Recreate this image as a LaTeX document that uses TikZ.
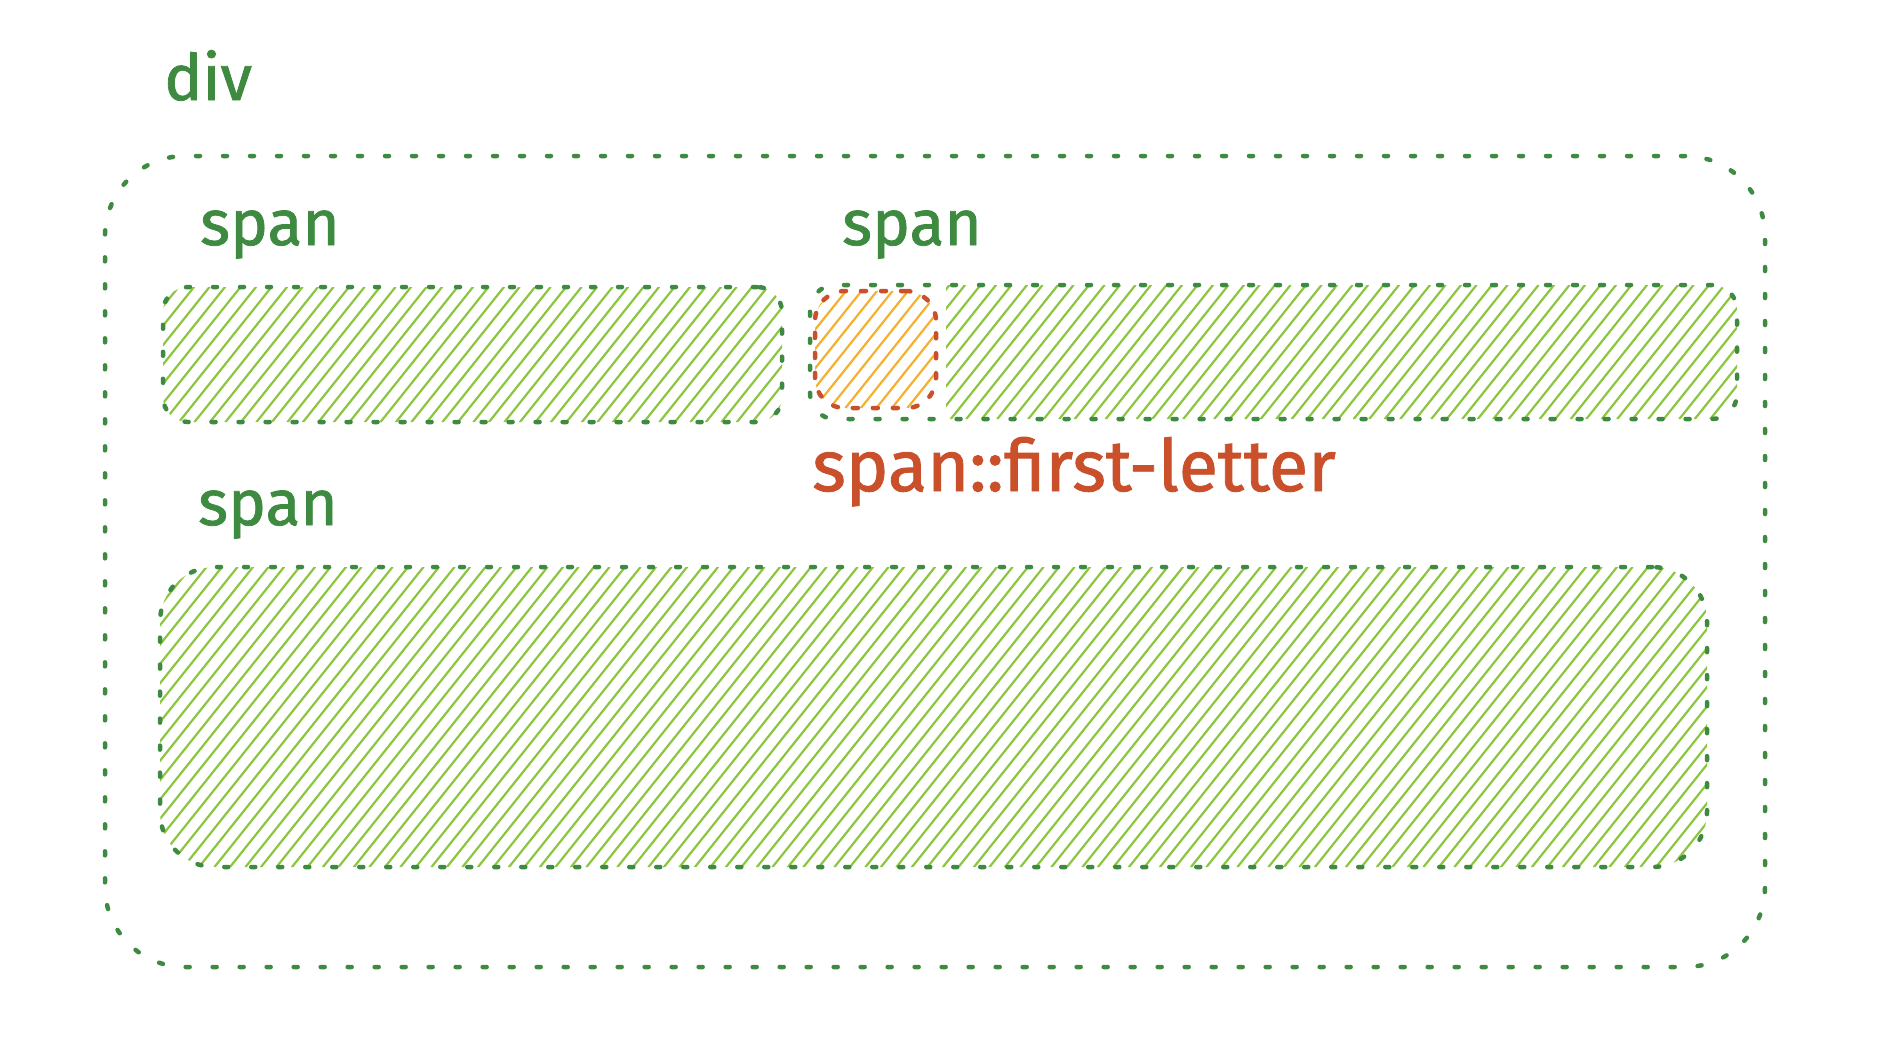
\documentclass[tikz,border=0pt]{standalone}
\usepackage{fontspec}
\setmainfont{Fira Sans}
\newfontfamily\handfont[FakeBold=1.2]{Fira Sans}
\definecolor{dgreen}{HTML}{3E8A40}
\definecolor{lgreen}{HTML}{8CC63F}
\definecolor{orng}{HTML}{F5B030}
\definecolor{rred}{HTML}{C9502A}
\tikzset{
  gborder/.style={draw=dgreen, line width=4.5pt, dash pattern=on 4pt off 23pt, line cap=round, inner sep=0pt, rectangle},
  rborder/.style={draw=rred, line width=4.5pt, dash pattern=on 5pt off 15pt, line cap=round, inner sep=0pt, rectangle},
  hline/.style={line width=2.2pt, line cap=round},
  gtext/.style={font=\handfont\fontsize{64}{64}\selectfont, text=dgreen, inner sep=0pt, anchor=base west},
  rtext/.style={font=\handfont\fontsize{72}{72}\selectfont, text=rred, inner sep=0pt, anchor=base west}
}
% #1 x0, #2 y0, #3 x1, #4 y1, #5 radius, #6 colour
\newcommand\myhatch[6]{%
  \begin{scope}
    \clip[rounded corners=#5] (#1,#2) rectangle (#3,#4);
    \pgfmathsetmacro\hdx{(#4-#2)*0.8}
    \pgfmathsetmacro\hht{#4-#2}
    \pgfmathsetmacro\hstart{#1-\hdx}
    \pgfmathsetmacro\hnext{\hstart+15.5}
    \foreach \s in {\hstart,\hnext,...,#3}
      \draw[hline, #6] (\s,#4) -- ++(\hdx,-\hht);
  \end{scope}}
\begin{document}
\begin{tikzpicture}[x=1pt,y=-1pt]
\useasboundingbox[fill=white] (0,0) rectangle (1878,1058);

% hatching
\myhatch{163}{287}{782}{422}{25pt}{lgreen}
\begin{scope}
  \clip (946,0) rectangle (1878,1058);
  \myhatch{810}{285}{1737}{419}{25pt}{lgreen}
\end{scope}
\myhatch{815}{291}{936}{408}{30pt}{orng}
\myhatch{160}{567}{1707}{867}{55pt}{lgreen}

% outer div box
\node[gborder, rounded corners=80pt, minimum width=1660pt, minimum height=811pt] (outer) at (935,561.5) {};
\node[gtext] (divlbl) at (164,100) {div};

% span labels
\node[gtext] (spanA) at (200,245) {span};
\node[gtext] (spanB) at (842,245) {span};
\node[gtext] (spanC) at (198,525) {span};

% box A
\node[gborder, rounded corners=25pt, minimum width=619pt, minimum height=135pt] (boxA) at (472.5,354.5) {};

% box B
\node[gborder, rounded corners=25pt, minimum width=927pt, minimum height=134pt] (boxB) at (1273.5,352) {};

% first-letter box
\node[rborder, rounded corners=30pt, minimum width=121pt, minimum height=117pt] (boxFL) at (875.5,349.5) {};
\node[rtext] (fllbl) at (812,491) {span::first-letter};

% box C
\node[gborder, rounded corners=55pt, minimum width=1547pt, minimum height=300pt] (boxC) at (933.5,717) {};
\end{tikzpicture}
\end{document}
